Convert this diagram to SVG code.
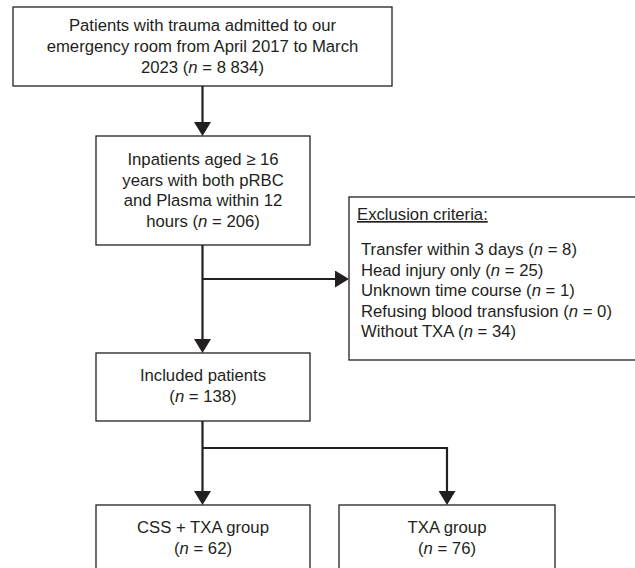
<svg xmlns="http://www.w3.org/2000/svg" width="635" height="568" viewBox="0 0 635 568">
<style>
.box{fill:#fff;stroke:#231f20;stroke-width:1.3}
.t{font-family:"Liberation Sans",Arial,sans-serif;font-size:16.7px;fill:#231f20}
.c{text-anchor:middle}
.conn{fill:none;stroke:#231f20;stroke-width:2.2}
</style>
<defs>
<marker id="ah" viewBox="0 0 14 17" refX="0" refY="8.5" markerWidth="14" markerHeight="17" markerUnits="userSpaceOnUse" orient="auto">
<path d="M0,0 L14,8.5 L0,17 Z" fill="#231f20"/>
</marker>
</defs>
<rect width="635" height="568" fill="#fff"/>
<g id="connectors">
<path class="conn" d="M202.5,86 V122" marker-end="url(#ah)"/>
<path class="conn" d="M202.5,245 V339" marker-end="url(#ah)"/>
<path class="conn" d="M202.5,279 H335" marker-end="url(#ah)"/>
<path class="conn" d="M202.5,421 V491" marker-end="url(#ah)"/>
<path class="conn" d="M202.5,448 H447 V491" marker-end="url(#ah)"/>
</g>
<g id="n1">
<rect class="box" x="13" y="7" width="379" height="79"/>
<text class="t c" x="202.5" y="31">Patients with trauma admitted to our</text>
<text class="t c" x="202.5" y="52">emergency room from April 2017 to March</text>
<text class="t c" x="202.5" y="73">2023 (<tspan font-style="italic">n</tspan> = 8 834)</text>
</g>
<g id="n2">
<rect class="box" x="96" y="136" width="214" height="109"/>
<text class="t c" x="203" y="165">Inpatients aged ≥ 16</text>
<text class="t c" x="203" y="186">years with both pRBC</text>
<text class="t c" x="203" y="206">and Plasma within 12</text>
<text class="t c" x="203" y="227">hours (<tspan font-style="italic">n</tspan> = 206)</text>
</g>
<g id="exclusion">
<rect class="box" x="349" y="197" width="300" height="163"/>
<text class="t" x="357" y="220" text-decoration="underline">Exclusion criteria:</text>
<text class="t" x="361" y="255">Transfer within 3 days (<tspan font-style="italic">n</tspan> = 8)</text>
<text class="t" x="361" y="276">Head injury only (<tspan font-style="italic">n</tspan> = 25)</text>
<text class="t" x="361" y="296">Unknown time course (<tspan font-style="italic">n</tspan> = 1)</text>
<text class="t" x="361" y="317">Refusing blood transfusion (<tspan font-style="italic">n</tspan> = 0)</text>
<text class="t" x="361" y="337">Without TXA (<tspan font-style="italic">n</tspan> = 34)</text>
</g>
<g id="n3">
<rect class="box" x="96" y="353" width="214" height="68"/>
<text class="t c" x="203" y="381">Included patients</text>
<text class="t c" x="203" y="402">(<tspan font-style="italic">n</tspan> = 138)</text>
</g>
<g id="n4">
<rect class="box" x="96" y="505" width="214" height="80"/>
<text class="t c" x="203" y="533">CSS + TXA group</text>
<text class="t c" x="203" y="554">(<tspan font-style="italic">n</tspan> = 62)</text>
</g>
<g id="n5">
<rect class="box" x="339" y="505" width="216" height="80"/>
<text class="t c" x="447" y="533">TXA group</text>
<text class="t c" x="447" y="554">(<tspan font-style="italic">n</tspan> = 76)</text>
</g>
</svg>
